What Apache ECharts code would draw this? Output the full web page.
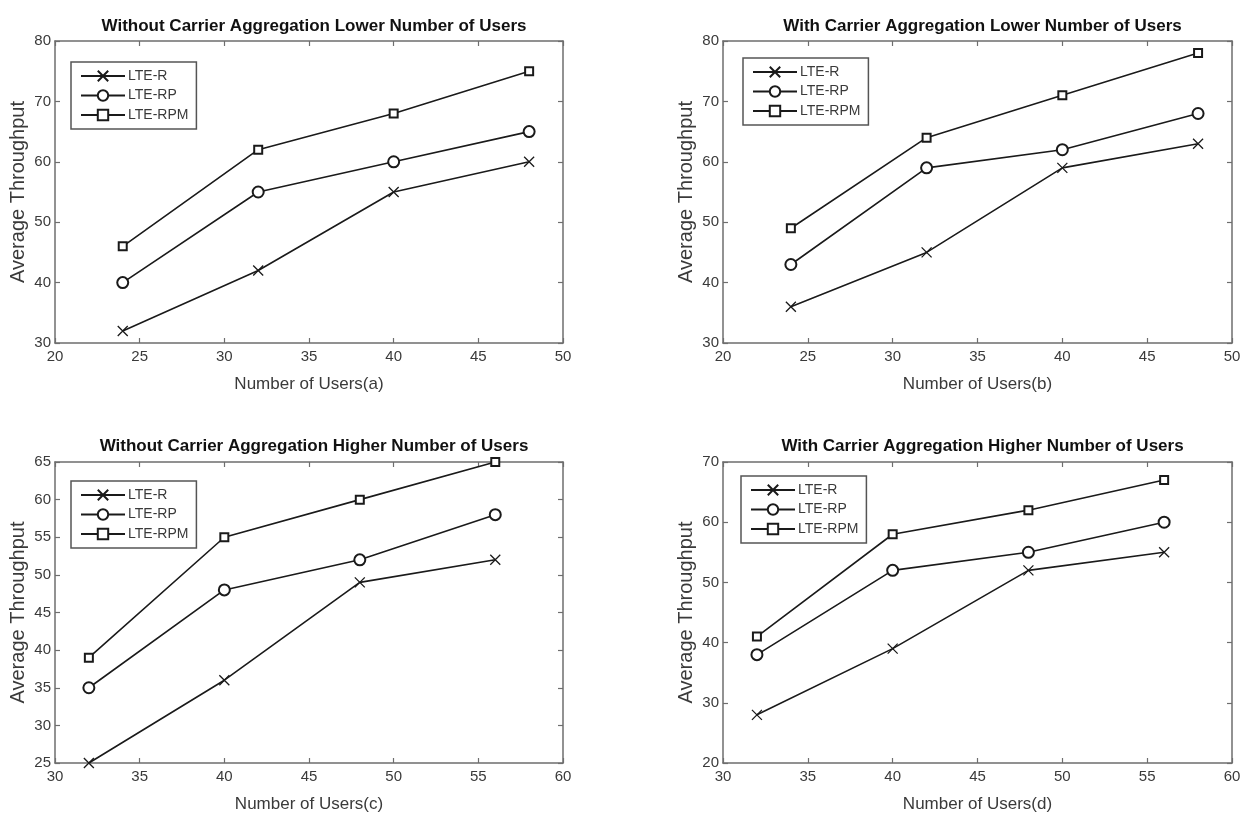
<!DOCTYPE html>
<html>
<head>
<meta charset="utf-8">
<title>Average Throughput vs Number of Users</title>
<script src="https://cdn.jsdelivr.net/npm/echarts@6/dist/echarts.min.js"></script>
<style>
  html, body { margin: 0; padding: 0; background: #ffffff; }
  #chart { width: 1250px; height: 819px; }
</style>
</head>
<body>
<div id="chart"></div>
<script>
// ---- data ----
const seriesNames = ['LTE-R', 'LTE-RP', 'LTE-RPM'];

const usersLow = [24, 32, 40, 48];
const usersHigh = [32, 40, 48, 56];

// (a) without carrier aggregation, lower number of users
const noCaLowR = [32, 42, 55, 60];
const noCaLowRP = [40, 55, 60, 65];
const noCaLowRPM = [46, 62, 68, 75];

// (b) with carrier aggregation, lower number of users
const caLowR = [36, 45, 59, 63];
const caLowRP = [43, 59, 62, 68];
const caLowRPM = [49, 64, 71, 78];

// (c) without carrier aggregation, higher number of users
const noCaHighR = [25, 36, 49, 52];
const noCaHighRP = [35, 48, 52, 58];
const noCaHighRPM = [39, 55, 60, 65];

// (d) with carrier aggregation, higher number of users
const caHighR = [28, 39, 52, 55];
const caHighRP = [38, 52, 55, 60];
const caHighRPM = [41, 58, 62, 67];

const panelTitles = [
    'Without Carrier Aggregation Lower Number of Users',
    'With Carrier Aggregation Lower Number of Users',
    'Without Carrier Aggregation Higher Number of Users',
    'With Carrier Aggregation Higher Number of Users'
];
const xNames = ['Number of Users(a)', 'Number of Users(b)', 'Number of Users(c)', 'Number of Users(d)'];
const yName = 'Average Throughput';

// axis ranges per panel: [min, max, interval]
const xRanges = [[20, 50, 5], [20, 50, 5], [30, 60, 5], [30, 60, 5]];
const yRanges = [[30, 80, 10], [30, 80, 10], [25, 65, 5], [20, 70, 10]];

const panelX = [usersLow, usersLow, usersHigh, usersHigh];
const panelY = [
    [noCaLowR, noCaLowRP, noCaLowRPM],
    [caLowR, caLowRP, caLowRPM],
    [noCaHighR, noCaHighRP, noCaHighRPM],
    [caHighR, caHighRP, caHighRPM]
];

// ---- layout / style ----
const grids = [
    { left: 55, top: 41, width: 508, height: 302 },
    { left: 723, top: 41, width: 509, height: 302 },
    { left: 55, top: 462, width: 508, height: 301 },
    { left: 723, top: 462, width: 509, height: 301 }
];
const legendPos = [
    { left: 71, top: 62 },
    { left: 743, top: 58 },
    { left: 71, top: 481 },
    { left: 741, top: 476 }
];

const FONT = "'Liberation Sans', Arial, sans-serif";
const AXIS_GRAY = '#6e6e6e';
const LABEL_GRAY = '#3a3a3a';
const INK = '#1a1a1a';

const symbols = ['path://M0,0L10,10M10,0L0,10', 'emptyCircle', 'emptyRect'];
const symbolSizes = [10, 11, 8];

const chartInstance = echarts.init(document.getElementById('chart'), null, { renderer: 'canvas' });

const title = [];
const legend = [];
const xAxis = [];
const yAxis = [];
const series = [];

function baseAxisLine() {
    return { show: true, onZero: false, lineStyle: { color: AXIS_GRAY, width: 1.5 } };
}

function tickStyle() {
    return { show: true, inside: true, length: 5, lineStyle: { color: AXIS_GRAY, width: 1.2 } };
}

for (let i = 0; i < 4; i++) {
    const g = grids[i];
    title.push({
        text: panelTitles[i],
        left: g.left + g.width / 2,
        top: i < 2 ? 13 : 433,
        textAlign: 'center',
        textStyle: { fontFamily: FONT, fontWeight: 'bold', fontSize: 17, color: '#111' }
    });

    legend.push({
        data: seriesNames,
        orient: 'vertical',
        left: legendPos[i].left,
        top: legendPos[i].top,
        itemWidth: 44,
        itemHeight: 13,
        itemGap: 5.5,
        padding: [7, 8, 7, 9],
        borderColor: '#555',
        borderWidth: 1.5,
        backgroundColor: '#fff',
        selectedMode: false,
        textStyle: { fontFamily: FONT, fontSize: 14, color: LABEL_GRAY, padding: [0, 0, 0, -2] }
    });
}

// main bottom/left axes (index 0-3), then mirrored top/right axes (index 4-7)
for (let i = 0; i < 4; i++) {
    xAxis.push({
        type: 'value',
        gridIndex: i,
        min: xRanges[i][0],
        max: xRanges[i][1],
        interval: xRanges[i][2],
        name: xNames[i],
        nameLocation: 'middle',
        nameGap: 33,
        nameTextStyle: { fontFamily: FONT, fontSize: 17, color: LABEL_GRAY },
        axisLine: baseAxisLine(),
        axisTick: tickStyle(),
        axisLabel: { fontFamily: FONT, fontSize: 15, color: LABEL_GRAY, margin: 6 },
        splitLine: { show: false }
    });
    yAxis.push({
        type: 'value',
        gridIndex: i,
        min: yRanges[i][0],
        max: yRanges[i][1],
        interval: yRanges[i][2],
        name: yName,
        nameLocation: 'middle',
        nameGap: 27,
        nameTextStyle: { fontFamily: FONT, fontSize: 20, color: LABEL_GRAY },
        axisLine: baseAxisLine(),
        axisTick: tickStyle(),
        axisLabel: { fontFamily: FONT, fontSize: 15, color: LABEL_GRAY, margin: 4 },
        splitLine: { show: false }
    });
}
for (let i = 0; i < 4; i++) {
    xAxis.push({
        type: 'value',
        gridIndex: i,
        position: 'top',
        min: xRanges[i][0],
        max: xRanges[i][1],
        interval: xRanges[i][2],
        axisLine: baseAxisLine(),
        axisTick: tickStyle(),
        axisLabel: { show: false },
        splitLine: { show: false }
    });
    yAxis.push({
        type: 'value',
        gridIndex: i,
        position: 'right',
        min: yRanges[i][0],
        max: yRanges[i][1],
        interval: yRanges[i][2],
        axisLine: baseAxisLine(),
        axisTick: tickStyle(),
        axisLabel: { show: false },
        splitLine: { show: false }
    });
}

for (let i = 0; i < 4; i++) {
    for (let s = 0; s < 3; s++) {
        series.push({
            name: seriesNames[s],
            type: 'line',
            xAxisIndex: i,
            yAxisIndex: i,
            data: panelX[i].map((x, k) => [x, panelY[i][s][k]]),
            symbol: symbols[s],
            symbolSize: symbolSizes[s],
            showAllSymbol: true,
            animation: false,
            lineStyle: { color: INK, width: 1.6 },
            itemStyle: { color: INK, borderColor: INK, borderWidth: 1.3 },
            z: 3
        });
    }
}

const option = {
    backgroundColor: '#ffffff',
    animation: false,
    title: title,
    legend: legend,
    grid: grids,
    xAxis: xAxis,
    yAxis: yAxis,
    series: series
};
chartInstance.setOption(option);
</script>
</body>
</html>
